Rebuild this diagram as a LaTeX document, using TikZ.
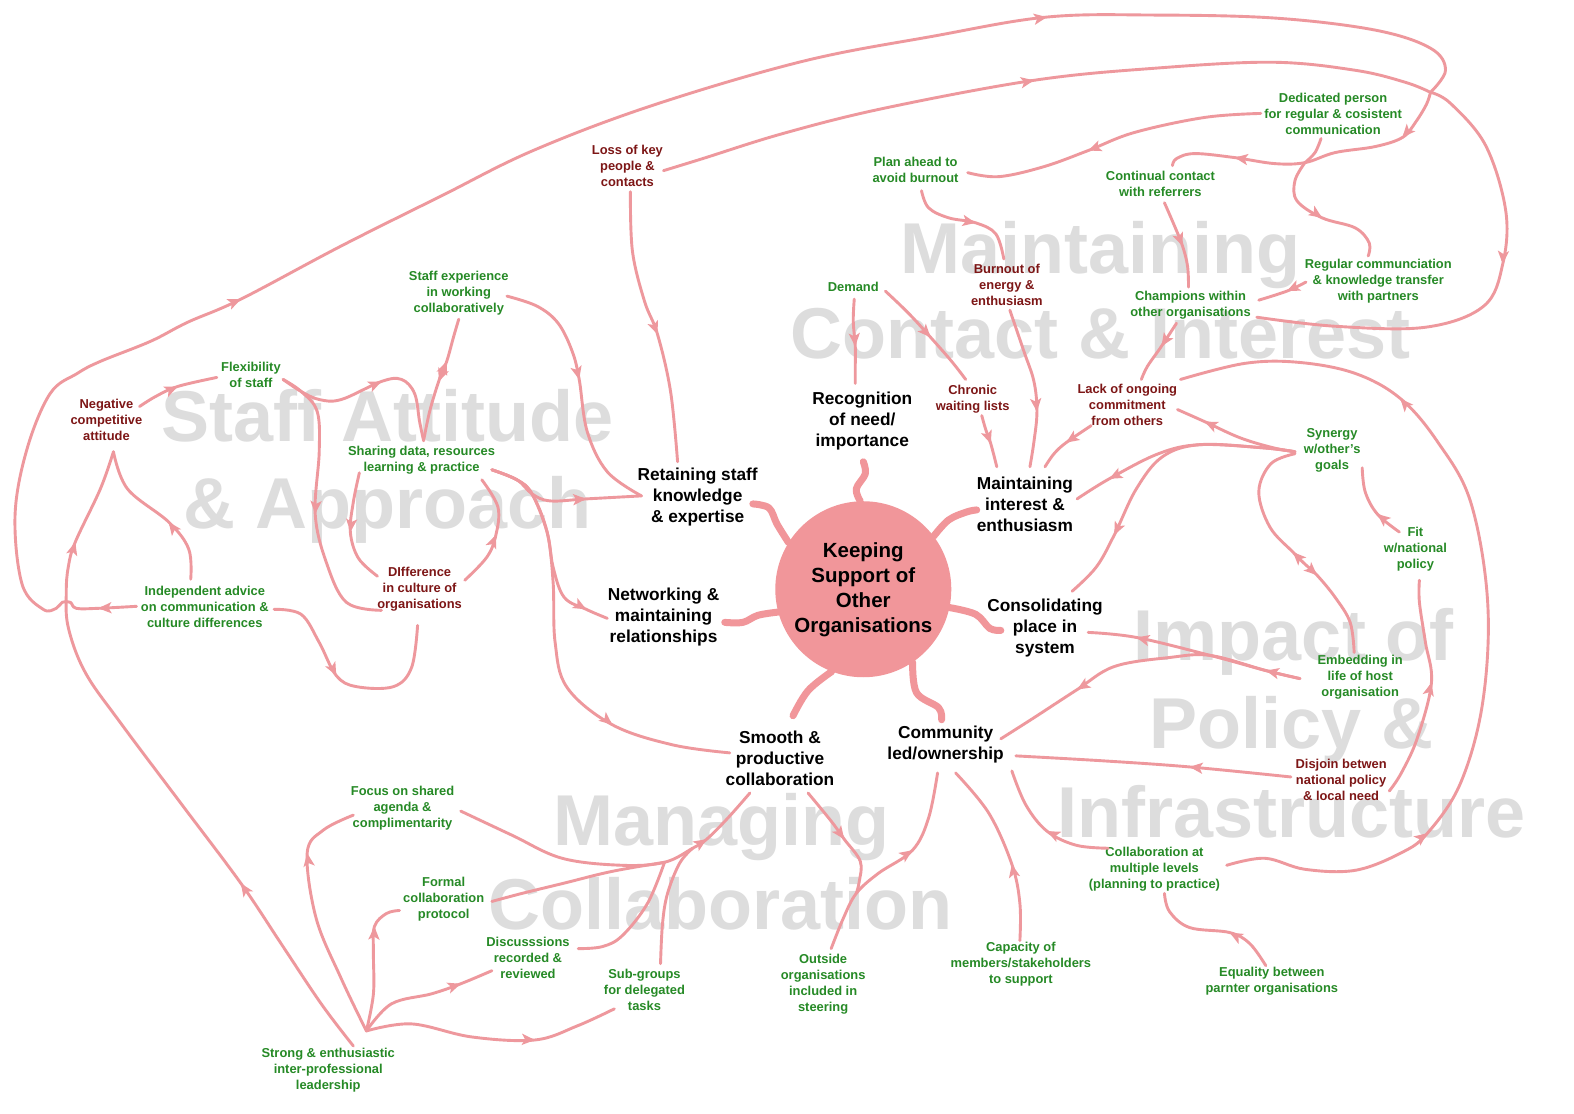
\documentclass[tikz,border=0pt]{standalone}
\usepackage{fontspec}
\setmainfont{Liberation Sans}
\usetikzlibrary{arrows.meta,calc}
\definecolor{linkpink}{RGB}{238,152,157}
\definecolor{hubpink}{RGB}{241,150,154}
\definecolor{leafgreen}{RGB}{38,138,38}
\definecolor{leafred}{RGB}{125,22,22}
\definecolor{wmgray}{RGB}{221,221,221}

\begin{document}
\begin{tikzpicture}[x=1.0038pt,y=-1.0038pt,
  glab/.style={text=leafgreen,font=\fontsize{12.9}{16}\selectfont\bfseries,align=center,inner sep=1pt},
  rlab/.style={text=leafred,font=\fontsize{12.9}{16}\selectfont\bfseries,align=center,inner sep=1pt},
  mlab/.style={text=black,font=\fontsize{17.3}{21}\selectfont\bfseries,align=center,inner sep=1pt},
  wmark/.style={text=wmgray,font=\fontsize{72}{86}\selectfont\bfseries,anchor=base,inner sep=0pt},
  ln/.style={draw=linkpink,line width=2.9pt,line cap=round,line join=round},
  tent/.style={draw=hubpink,line width=7pt,line cap=round,line join=round},
  tipln/.style={draw=linkpink,line width=2.9pt,-{Stealth[length=13pt,width=11pt,inset=3pt]}},
  sm/.style={smooth,tension=0.6}
]
\fill[white] (0,0) rectangle (1568,1109);
\useasboundingbox (0,0) rectangle (1568,1109);

% ---------- theme titles in the background ----------
\node[wmark] (wmA1) at (386,440) {Staff Attitude};
\node[wmark] (wmA2) at (386,526) {\& Approach};
\node[wmark] (wmB1) at (1096,272) {Maintaining};
\node[wmark] (wmB2) at (1096,357) {Contact \& Interest};
\node[wmark] (wmC1) at (1289,658) {Impact of};
\node[wmark] (wmC2) at (1287,746) {Policy \&};
\node[wmark] (wmC3) at (1287,834) {Infrastructure};
\node[wmark] (wmD1) at (719,842) {Managing};
\node[wmark] (wmD2) at (718,926) {Collaboration};

% ---------- hub and main themes ----------
\node[circle,fill=hubpink,minimum size=176pt,inner sep=0pt,align=center,
      font=\fontsize{20.5}{25}\selectfont\bfseries] (hub) at (860,587)
      {Keeping\\Support of\\Other\\Organisations};
\node[mlab] (rec) at (859,419) {Recognition\\of need/\\importance};
\node[mlab] (ret) at (695,495) {Retaining staff\\knowledge\\\& expertise};
\node[mlab] (mai) at (1021,502) {Maintaining\\interest \&\\enthusiasm};
\node[mlab] (net) at (661,615) {Networking \&\\maintaining\\relationships};
\node[mlab] (con) at (1041,626) {Consolidating\\place in\\system};
\node[mlab] (smo) at (777,755) {Smooth \&\\productive\\collaboration};
\node[mlab] (com) at (942,742) {Community\\led/ownership};

% ---------- factors ----------
\node[rlab] (loss) at (625,165) {Loss of key\\people \&\\contacts};
\node[glab] (sexp) at (457,292) {Staff experience\\in working\\collaboratively};
\node[glab] (flex) at (250,373) {Flexibility\\of staff};
\node[rlab] (neg) at (106,418) {Negative\\competitive\\attitude};
\node[glab] (share) at (420,458) {Sharing data, resources\\learning \& practice};
\node[rlab] (diff) at (418,587) {DIfference\\in culture of\\organisations};
\node[glab] (indep) at (204,605) {Independent advice\\on communication \&\\culture differences};
\node[glab] (plan) at (912,169) {Plan ahead to\\avoid burnout};
\node[glab] (ded) at (1328,113) {Dedicated person\\for regular \& cosistent\\communication};
\node[glab] (cont) at (1156,183) {Continual contact\\with referrers};
\node[glab] (dem) at (850,286) {Demand};
\node[rlab] (burn) at (1003,284) {Burnout of\\energy \&\\enthusiasm};
\node[glab] (reg) at (1373,280) {Regular communciation\\\& knowledge transfer\\with partners};
\node[glab] (champ) at (1186,304) {Champions within\\other organisations};
\node[rlab] (chron) at (969,398) {Chronic\\waiting lists};
\node[rlab] (lack) at (1123,403) {Lack of ongoing\\commitment\\from others};
\node[glab] (syn) at (1327,449) {Synergy\\w/other's\\goals};
\node[glab] (fit) at (1410,547) {Fit\\w/national\\policy};
\node[glab] (emb) at (1355,675) {Embedding in\\life of host\\organisation};
\node[rlab] (dis) at (1336,777) {Disjoin betwen\\national policy\\\& local need};
\node[glab] (cml) at (1150,866) {Collaboration at\\multiple levels\\(planning to practice)};
\node[glab] (eq) at (1267,977) {Equality between\\parnter organisations};
\node[glab] (cap) at (1017,960) {Capacity of\\members/stakeholders\\to support};
\node[glab] (out) at (820,980) {Outside\\organisations\\included in\\steering};
\node[glab] (sub) at (642,986) {Sub-groups\\for delegated\\tasks};
\node[glab] (disc) at (526,954) {Discusssions\\recorded \&\\reviewed};
\node[glab] (form) at (442,896) {Formal\\collaboration\\protocol};
\node[glab] (foc) at (401,805) {Focus on shared\\agenda \&\\complimentarity};
\node[glab] (strong) at (327,1066) {Strong \& enthusiastic\\inter-professional\\leadership};

% ---------- junction points ----------
\coordinate (knot) at (1425,92);
\coordinate (j1) at (1300,162);
\coordinate (j2) at (662,859);
\coordinate (j3) at (690,845);
\coordinate (oj) at (853,890);

% ---------- tentacles of the hub ----------
\draw[tent] plot[sm] coordinates {(hub.92) (853,487) (862,472) ($(rec)+(1,41)$)};
\draw[tent] plot[sm] coordinates {(hub.148) (774,522) (766,506) ($(ret)+(55,7)$)};
\draw[tent] plot[sm] coordinates {(hub.37) (945,518) (963,510) ($(mai)+(-48,6)$)};
\draw[tent] plot[sm] coordinates {(hub.195) (755,613) (740,620) ($(net)+(61,5)$)};
\draw[tent] plot[sm] coordinates {(hub.348) (972,612) (986,626) ($(con)+(-44,2)$)};
\draw[tent] plot[sm] coordinates {(hub.249) (805,688) ($(smo)+(13,-42)$)};
\draw[tent] plot[sm] coordinates {(hub.304) (913,690) (935,705) ($(com)+(-4,-25)$)};

% ---------- outer loops ----------
\draw[ln] plot[sm] coordinates {($(indep)+(-68,-1)$) (98,606) (76,606) (70,600) (62,600) (56,606) (43,607) (22,582) (15,513) (27,447) (50,392) (77,372) (100,360) (150,340) (187,321) (240,298) (340,245) (440,195) (531,150) (650,105) (800,61) (930,36) (1043,17) (1150,15) (1270,18) (1370,30) (1425,48) (1440,70) (knot)};
\draw[ln] plot[sm] coordinates {($(loss)+(36,5)$) (700,158) (780,133) (880,108) (1030,80) (1150,68) (1267,62) (1350,70) (1400,82) (knot)};
\draw[ln] plot[sm] coordinates {(knot) (1421,104) (1410,122) (1397,137) (1370,146) (1330,152) (j1) (1270,163) (1230,157) (1190,153) (1172,158) ($(cont)+(12,-18)$)};
\draw[ln] plot[sm] coordinates {($(ded)+(-12,25)$) (1310,152) (j1)};
\draw[ln] plot[sm] coordinates {(j1) (1290,180) (1292,200) (1317,217) (1350,227) (1364,242) ($(reg)+(-10,-25)$)};
\draw[ln] plot[sm] coordinates {(knot) (1445,103) (1480,145) (1500,210) (1497,263) (1478,305) (1420,326) (1330,325) ($(champ)+(66,12)$)};

% ---------- maintaining contact & interest ----------
\draw[ln] plot[sm] coordinates {($(ded)+(-72,0)$) (1200,117) (1130,132) (1084,150) (1040,166) (995,176) ($(plan)+(52,3)$)};
\draw[ln] plot[sm] coordinates {($(plan)+(6,21)$) (925,207) (945,217) (972,222) (992,233) ($(burn)+(-3,-26)$)};
\draw[ln] plot[sm] coordinates {($(cont)+(4,19)$) (1170,225) (1178,245) (1183,265) ($(champ)+(-2,-18)$)};
\draw[ln] plot[sm] coordinates {($(reg)+(-72,1)$) (1282,290) ($(champ)+(68,-5)$)};
\draw[ln] plot[sm] coordinates {($(champ)+(-14,18)$) (1157,345) (1143,365) ($(lack)+(14,-25)$)};
\draw[ln] plot[sm] coordinates {($(lack)+(-36,21)$) (1062,441) (1050,452) ($(mai)+(20,-37)$)};
\draw[ln] plot[sm] coordinates {($(burn)+(3,25)$) (1020,350) (1030,380) (1033,410) (1030,440) ($(mai)+(5,-37)$)};
\draw[ln] plot[sm] coordinates {($(chron)+(9,16)$) (982,428) (987,442) ($(mai)+(-28,-37)$)};
\draw[ln] plot[sm] coordinates {($(dem)+(1,12)$) (850,320) (852,345) (852,365) ($(rec)+(-7,-37)$)};
\draw[ln] plot[sm] coordinates {($(dem)+(32,4)$) (905,312) (927,336) (948,360) ($(chron)+(-7,-20)$)};

% ---------- impact of policy & infrastructure ----------
\draw[ln] plot[sm] coordinates {($(cml)+(72,-4)$) (1260,855) (1300,866) (1350,867) (1395,850) (1422,830) (1455,780) (1477,700) (1482,600) (1465,500) (1432,440) (1395,397) (1350,372) (1294,361) (1240,362) ($(lack)+(53,-25)$)};
\draw[ln] plot[sm] coordinates {($(syn)+(-37,1)$) (1268,446) (1235,436) (1200,420) ($(lack)+(50,5)$)};
\draw[ln] plot[sm] coordinates {($(syn)+(-37,1)$) (1257,446) (1195,443) (1154,452) (1105,477) ($(mai)+(52,-5)$)};
\draw[ln] plot[sm] coordinates {($(syn)+(-37,1)$) (1257,446) (1195,443) (1158,455) (1132,487) (1110,533) (1092,565) ($(con)+(27,-37)$)};
\draw[ln] plot[sm] coordinates {($(syn)+(-37,3)$) (1266,462) (1254,490) (1265,525) (1288,550) (1300,562) (1312,573) (1330,595) (1345,620) ($(emb)+(-6,-25)$)};
\draw[ln] plot[sm] coordinates {($(fit)+(-16,-17)$) (1372,512) (1360,490) ($(syn)+(30,17)$)};
\draw[ln] plot[sm] coordinates {($(dis)+(48,11)$) (1396,770) (1412,735) (1426,680) (1420,640) (1414,600) ($(fit)+(4,31)$)};
\draw[ln] plot[sm] coordinates {($(emb)+(-60,1)$) (1261,668) (1206,653) (1132,635) ($(con)+(43,4)$)};
\draw[ln] plot[sm] coordinates {($(emb)+(-60,1)$) (1261,668) (1206,653) (1165,655) (1110,664) (1073,687) (1030,715) ($(com)+(55,-6)$)};
\draw[ln] plot[sm] coordinates {($(dis)+(-50,-3)$) (1185,764) (1100,758) ($(com)+(70,11)$)};
\draw[ln] plot[sm] coordinates {($(cml)+(-46,-21)$) (1072,842) (1043,828) (1022,802) ($(com)+(66,26)$)};
\draw[ln] plot[sm] coordinates {($(eq)+(-6,-15)$) (1245,940) (1225,929) (1185,924) (1165,908) ($(cml)+(10,24)$)};
\draw[ln] plot[sm] coordinates {($(cap)+(-1,-23)$) (1016,900) (1008,861) (985,810) ($(com)+(10,28)$)};
\draw[ln] plot[sm] coordinates {($(out)+(8,-35)$) (840,915) (oj) (875,870) (909,847) (925,815) ($(com)+(-8,28)$)};
\draw[ln] plot[sm] coordinates {($(smo)+(28,35)$) (828,818) (841,836) (857,858) (856,878) (oj)};

% ---------- managing collaboration ----------
\draw[ln] plot[sm] coordinates {($(foc)+(58,3)$) (510,832) (560,855) (620,862) (j2) (j3) (704,836) (725,815) ($(smo)+(-30,35)$)};
\draw[ln] plot[sm] coordinates {($(form)+(48,2)$) (520,890) (561,880) (610,868) (j2)};
\draw[ln] plot[sm] coordinates {($(disc)+(50,-9)$) (600,943) (620,932) (645,900) (j2)};
\draw[ln] plot[sm] coordinates {($(sub)+(16,-26)$) (660,920) (665,890) (677,860) (j3)};
\draw[ln] plot[sm] coordinates {($(strong)+(25,-24)$) (320,1000) (280,940) (240,880) (180,800) (120,720) (85,670) (68,625) (66,590) (68,565) (75,540) (100,487) ($(neg)+(7,32)$)};
\draw[ln] plot[sm] coordinates {($(indep)+(-14,-28)$) (188,547) (168,520) (127,487) ($(neg)+(7,32)$)};
\draw[ln] plot[sm] coordinates {($(strong)+(38,-39)$) (340,975) (315,915) (306,850) (322,827) ($(foc)+(-49,7)$)};
\draw[ln] plot[sm] coordinates {($(strong)+(38,-39)$) (372,990) (372,950) (373,923) (385,910) ($(form)+(-44,11)$)};
\draw[ln] plot[sm] coordinates {($(strong)+(38,-39)$) (390,1000) (430,990) (459,980) ($(disc)+(-36,13)$)};
\draw[ln] plot[sm] coordinates {($(strong)+(38,-39)$) (410,1020) (470,1033) (533,1036) (575,1022) ($(sub)+(-30,19)$)};

% ---------- staff attitude & approach ----------
\draw[ln] plot[sm] coordinates {($(neg)+(33,-13)$) (155,395) (177,385) ($(flex)+(-34,3)$)};
\draw[ln] plot[sm] coordinates {($(flex)+(32,5)$) (300,390) (318,398) (340,398) (380,380) (400,378) (413,392) (418,420) ($(share)+(2,-19)$)};
\draw[ln] plot[sm] coordinates {($(flex)+(32,5)$) (300,390) (316,410) (318,450) (314,512) (325,560) (345,600) ($(diff)+(-38,21)$)};
\draw[ln] plot[sm] coordinates {($(share)+(2,-19)$) (428,410) (437,380) (445,360) (452,335) ($(sexp)+(0,26)$)};
\draw[ln] plot[sm] coordinates {($(sexp)+(48,3)$) (535,305) (556,322) (570,350) (577,378) (585,430) (605,470) ($(ret)+(-56,-1)$)};
\draw[ln] plot[sm] coordinates {($(share)+(70,10)$) (515,478) (530,492) (548,499) (584,497) ($(ret)+(-56,-1)$)};
\draw[ln] plot[sm] coordinates {($(share)+(70,10)$) (515,478) (530,492) (545,530) (551,565) (562,595) (584,607) ($(net)+(-56,1)$)};
\draw[ln] plot[sm] coordinates {($(share)+(70,10)$) (515,478) (530,492) (545,530) (551,580) (553,640) (565,685) (610,722) (670,742) ($(smo)+(-50,-5)$)};
\draw[ln] plot[sm] coordinates {($(share)+(-62,13)$) (352,500) (349,530) (357,556) ($(diff)+(-42,-13)$)};
\draw[ln] plot[sm] coordinates {($(diff)+(45,-9)$) (485,555) (494,533) (496,505) ($(share)+(60,20)$)};
\draw[ln] plot[sm] coordinates {($(indep)+(69,2)$) (300,612) (318,640) (335,673) (355,684) (392,684) (410,665) ($(diff)+(-2,36)$)};
\draw[ln] plot[sm] coordinates {($(loss)+(3,26)$) (630,250) (642,300) (655,333) (668,390) ($(ret)+(-20,-35)$)};

% ---------- direction tips along the connectors ----------
\foreach \ax/\ay/\px/\py in {
  98/606/120/605, 240/298/187/321, 1043/17/930/36,
  1030/80/880/108, 1397/137/1410/122, 1230/157/1270/163,
  1317/217/1292/200, 1497/263/1500/210, 1084/150/1130/132,
  972/222/945/217, 1178/245/1170/225, 1282/290/1301/281,
  1157/345/1172/322, 1062/441/1087/424, 1033/410/1030/380,
  987/442/982/428, 852/345/850/320, 927/336/905/312,
  1422/830/1395/850, 1395/397/1432/440, 1200/420/1235/436,
  1105/477/1154/452, 1110/533/1132/487, 1288/550/1300/562,
  1312/573/1300/562, 1372/512/1394/530, 1426/680/1412/735,
  1261/668/1295/676, 1132/635/1206/653, 1073/687/1110/664,
  1185/764/1286/774, 1043/828/1072/842, 1225/929/1245/940,
  1008/861/1016/900, 909/847/875/870, 841/836/828/818,
  704/836/690/845, 240/880/280/940, 75/540/68/565,
  168/520/188/547, 306/850/312/890, 373/923/372/950,
  459/980/430/990, 533/1036/470/1033, 177/385/155/395,
  380/380/340/398, 314/512/318/450, 437/380/445/360,
  445/360/437/380, 577/378/570/350, 584/497/548/499,
  584/607/562/595, 610/722/565/685, 349/530/352/500,
  494/533/485/555, 335/673/318/640, 655/333/642/300}
  \draw[tipln] ($(\ax,\ay)!3pt!(\px,\py)$) -- (\ax,\ay);

\end{tikzpicture}
\end{document}
